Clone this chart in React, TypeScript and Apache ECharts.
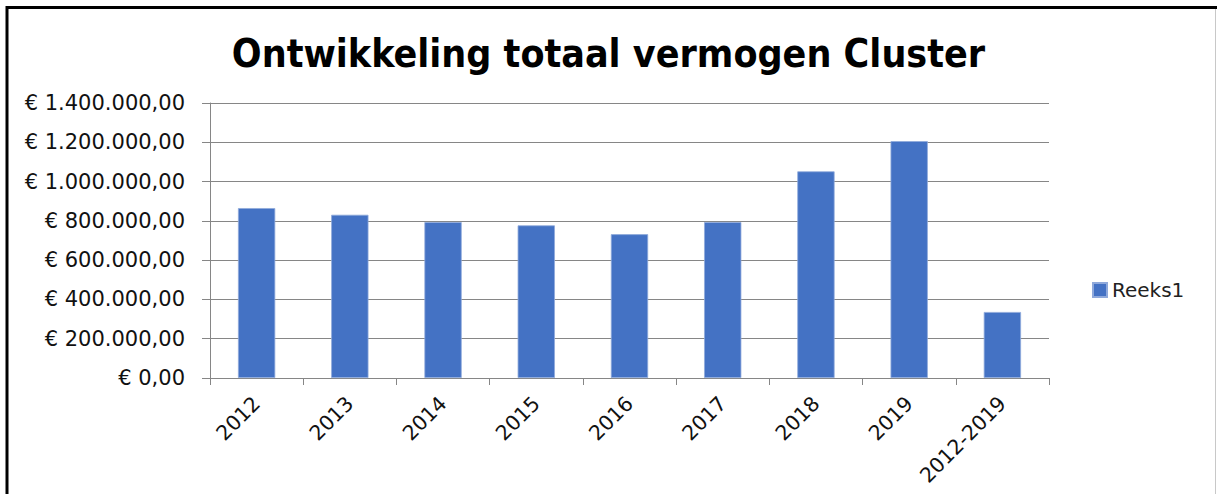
import React, { useEffect, useRef } from "react";
import * as echarts from "echarts";

const categories = ["2012", "2013", "2014", "2015", "2016", "2017", "2018", "2019", "2012-2019"];
const seriesName = "Reeks1";
const values = [865000, 831000, 794000, 777000, 732000, 794000, 1052000, 1206000, 336000];
const yMin = 0;
const yMax = 1400000;
const yInterval = 200000;

const formatEuro = (v: number) => {
  const intPart = Math.round(v).toString().replace(/\B(?=(\d{3})+(?!\d))/g, ".");
  return "€ " + intPart + ",00";
};

export default function App() {
  const ref = useRef<HTMLDivElement>(null);
  useEffect(() => {
    if (!ref.current) return;
    const chart = echarts.init(ref.current, null, { renderer: "svg" });
    const labelFont = "DejaVu Sans";
    chart.setOption({
      animation: false,
      backgroundColor: "#ffffff",
      title: {
        text: "Ontwikkeling totaal vermogen Cluster",
        left: "center",
        top: 29,
        textStyle: {
          fontFamily: "Liberation Sans Narrow, DejaVu Sans Condensed, sans-serif",
          fontWeight: "bold",
          fontSize: 39,
          color: "#000000",
        },
      },
      legend: {
        data: [seriesName],
        left: 1087,
        top: 275,
        orient: "vertical",
        itemWidth: 14,
        itemHeight: 14,
        itemGap: 8,
        icon: "rect",
        textStyle: { fontFamily: labelFont, fontSize: 20, color: "#222222" },
      },
      grid: { left: 210, right: 168, top: 103, bottom: 116, containLabel: false },
      xAxis: {
        type: "category",
        data: categories,
        boundaryGap: true,
        axisLine: { lineStyle: { color: "#868686", width: 1 } },
        axisTick: { show: true, length: 7, alignWithLabel: false, lineStyle: { color: "#868686" } },
        axisLabel: {
          rotate: 45,
          margin: 22,
          interval: 0,
          fontFamily: labelFont,
          fontSize: 20.5,
          color: "#111111",
        },
      },
      yAxis: {
        type: "value",
        min: yMin,
        max: yMax,
        interval: yInterval,
        axisLine: { show: true, lineStyle: { color: "#868686", width: 1 } },
        axisTick: { show: true, length: 8, lineStyle: { color: "#868686" } },
        splitLine: { show: true, lineStyle: { color: "#868686", width: 1 } },
        axisLabel: {
          margin: 25,
          fontFamily: labelFont,
          fontSize: 21,
          color: "#111111",
          formatter: (v: number) => formatEuro(v),
        },
      },
      series: [
        {
          name: seriesName,
          type: "bar",
          data: values,
          barWidth: "40%",
          itemStyle: { color: "#4472C4", borderColor: "#8fa9db", borderWidth: 0.8 },
        },
      ],
      graphic: [
        { type: "line", shape: { x1: 7, y1: 7.5, x2: 1217, y2: 7.5 }, style: { stroke: "#000000", lineWidth: 3 } },
        { type: "line", shape: { x1: 7, y1: 6, x2: 7, y2: 494 }, style: { stroke: "#000000", lineWidth: 3 } },
        { type: "line", shape: { x1: 1215.5, y1: 9, x2: 1215.5, y2: 494 }, style: { stroke: "#c8c8c8", lineWidth: 1 } },
      ],
    });
    return () => chart.dispose();
  }, []);
  return (
    <div
      ref={ref}
      style={{ position: "absolute", left: 0, top: 0, width: 1217, height: 494, background: "#fff" }}
    />
  );
}
